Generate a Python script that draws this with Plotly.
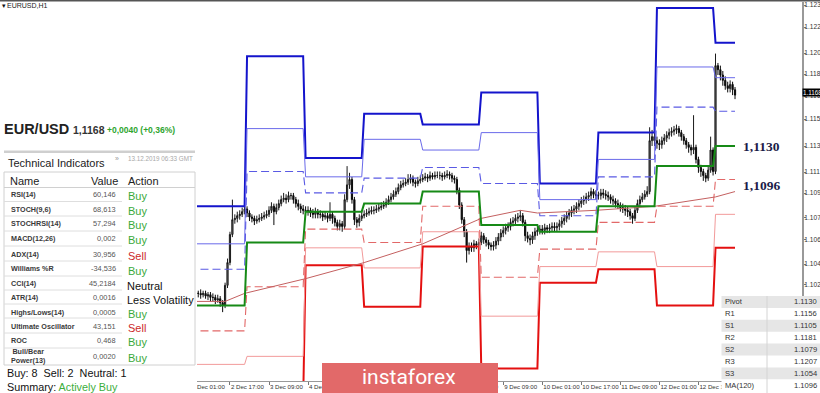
import plotly.graph_objects as go

# ---------------- DATA ----------------
# Hourly EUR/USD bars, index 0 = 2 Dec 00:00 (weekend removed)
closes = [
    1.1021, 1.1020, 1.1021, 1.1020, 1.1020, 1.1019, 1.1020, 1.1018, 1.1019, 1.1017,
    1.1017, 1.1015, 1.1016, 1.1013, 1.1011, 1.1026, 1.1043, 1.1064, 1.1075, 1.1076,
    1.1078, 1.1079, 1.1081, 1.1083, 1.1080, 1.1077, 1.1076, 1.1074, 1.1075, 1.1076,
    1.1077, 1.1078, 1.1079, 1.1082, 1.1085, 1.1081, 1.1084, 1.1087, 1.1090, 1.1091,
    1.1090, 1.1093, 1.1093, 1.1090, 1.1087, 1.1085, 1.1083, 1.1082, 1.1081, 1.1082,
    1.1080, 1.1079, 1.1081, 1.1079, 1.1079, 1.1077, 1.1078, 1.1076, 1.1079, 1.1076,
    1.1073, 1.1070, 1.1072, 1.1070, 1.1090, 1.1101, 1.1105, 1.1090, 1.1075, 1.1073,
    1.1076, 1.1078, 1.1079, 1.1080, 1.1081, 1.1082, 1.1082, 1.1083, 1.1084, 1.1085,
    1.1086, 1.1088, 1.1090, 1.1092, 1.1094, 1.1096, 1.1099, 1.1101, 1.1102, 1.1103,
    1.1105, 1.1106, 1.1103, 1.1102, 1.1104, 1.1105, 1.1106, 1.1107, 1.1106, 1.1108,
    1.1107, 1.1108, 1.1108, 1.1108, 1.1107, 1.1108, 1.1109, 1.1108, 1.1106, 1.1105,
    1.1097, 1.1086, 1.1075, 1.1066, 1.1052, 1.1055, 1.1054, 1.1057, 1.1056, 1.1058,
    1.1063, 1.1060, 1.1058, 1.1056, 1.1055, 1.1056, 1.1059, 1.1062, 1.1065, 1.1067,
    1.1069, 1.1070, 1.1073, 1.1074, 1.1076, 1.1077, 1.1078, 1.1073, 1.1063, 1.1061,
    1.1060, 1.1063, 1.1066, 1.1067, 1.1068, 1.1067, 1.1069, 1.1068, 1.1069, 1.1070,
    1.1069, 1.1070, 1.1072, 1.1074, 1.1076, 1.1078, 1.1080, 1.1082, 1.1083, 1.1085,
    1.1087, 1.1089, 1.1090, 1.1092, 1.1093, 1.1096, 1.1094, 1.1093, 1.1093, 1.1095,
    1.1094, 1.1093, 1.1092, 1.1090, 1.1089, 1.1087, 1.1086, 1.1084, 1.1083, 1.1082,
    1.1081, 1.1078, 1.1076, 1.1082, 1.1087, 1.1090, 1.1092, 1.1094, 1.1096, 1.1134,
    1.1137, 1.1134, 1.1132, 1.1131, 1.1134, 1.1136, 1.1138, 1.1140, 1.1141, 1.1142,
    1.1143, 1.1140, 1.1137, 1.1134, 1.1131, 1.1129, 1.1127, 1.1129, 1.1120, 1.1114,
    1.1111, 1.1108, 1.1106, 1.1112, 1.1127, 1.1111, 1.1190, 1.1187, 1.1183, 1.1179,
    1.1175, 1.1173, 1.1176, 1.1172, 1.1168,
]
highs = [
    1.1024, 1.1023, 1.1024, 1.1023, 1.1022, 1.1023, 1.1022, 1.1022, 1.1021, 1.1021,
    1.1020, 1.1019, 1.1019, 1.1018, 1.1015, 1.1028, 1.1046, 1.1066, 1.1090, 1.1079,
    1.1081, 1.1082, 1.1084, 1.1086, 1.1085, 1.1082, 1.1079, 1.1078, 1.1078, 1.1079,
    1.1080, 1.1081, 1.1082, 1.1085, 1.1088, 1.1087, 1.1087, 1.1090, 1.1093, 1.1095,
    1.1094, 1.1096, 1.1095, 1.1095, 1.1092, 1.1090, 1.1087, 1.1086, 1.1085, 1.1085,
    1.1084, 1.1083, 1.1084, 1.1083, 1.1082, 1.1081, 1.1081, 1.1080, 1.1088, 1.1081,
    1.1078, 1.1075, 1.1075, 1.1074, 1.1094, 1.1115, 1.1110, 1.1107, 1.1092, 1.1077,
    1.1079, 1.1081, 1.1082, 1.1083, 1.1084, 1.1085, 1.1085, 1.1086, 1.1087, 1.1088,
    1.1089, 1.1091, 1.1093, 1.1095, 1.1097, 1.1099, 1.1102, 1.1104, 1.1105, 1.1106,
    1.1109, 1.1109, 1.1108, 1.1105, 1.1107, 1.1108, 1.1109, 1.1110, 1.1109, 1.1111,
    1.1110, 1.1111, 1.1111, 1.1111, 1.1110, 1.1111, 1.1112, 1.1111, 1.1110, 1.1108,
    1.1107, 1.1099, 1.1088, 1.1077, 1.1068, 1.1058, 1.1058, 1.1060, 1.1059, 1.1061,
    1.1066, 1.1065, 1.1062, 1.1060, 1.1058, 1.1059, 1.1062, 1.1065, 1.1068, 1.1070,
    1.1072, 1.1073, 1.1076, 1.1077, 1.1079, 1.1080, 1.1082, 1.1080, 1.1075, 1.1066,
    1.1064, 1.1066, 1.1069, 1.1070, 1.1071, 1.1071, 1.1072, 1.1071, 1.1072, 1.1073,
    1.1073, 1.1073, 1.1075, 1.1077, 1.1079, 1.1081, 1.1083, 1.1085, 1.1086, 1.1088,
    1.1090, 1.1092, 1.1093, 1.1095, 1.1096, 1.1099, 1.1098, 1.1097, 1.1096, 1.1098,
    1.1098, 1.1097, 1.1096, 1.1094, 1.1093, 1.1091, 1.1090, 1.1088, 1.1087, 1.1086,
    1.1085, 1.1083, 1.1080, 1.1085, 1.1090, 1.1093, 1.1095, 1.1097, 1.1100, 1.1144,
    1.1142, 1.1140, 1.1137, 1.1135, 1.1137, 1.1139, 1.1141, 1.1143, 1.1144, 1.1145,
    1.1146, 1.1145, 1.1142, 1.1139, 1.1136, 1.1133, 1.1131, 1.1153, 1.1131, 1.1122,
    1.1116, 1.1113, 1.1110, 1.1115, 1.1137, 1.1129, 1.1199, 1.1192, 1.1190, 1.1186,
    1.1182, 1.1178, 1.1179, 1.1178, 1.1174,
]
lows = [
    1.1019, 1.1018, 1.1018, 1.1017, 1.1017, 1.1016, 1.1017, 1.1016, 1.1015, 1.1014,
    1.1014, 1.1012, 1.1013, 1.1010, 1.1006, 1.1009, 1.1024, 1.1041, 1.1062, 1.1072,
    1.1073, 1.1075, 1.1077, 1.1079, 1.1077, 1.1074, 1.1073, 1.1071, 1.1072, 1.1073,
    1.1074, 1.1075, 1.1076, 1.1077, 1.1080, 1.1071, 1.1079, 1.1082, 1.1085, 1.1088,
    1.1087, 1.1088, 1.1090, 1.1087, 1.1084, 1.1082, 1.1080, 1.1079, 1.1078, 1.1078,
    1.1077, 1.1076, 1.1076, 1.1076, 1.1076, 1.1074, 1.1075, 1.1073, 1.1074, 1.1072,
    1.1070, 1.1067, 1.1067, 1.1066, 1.1068, 1.1088, 1.1098, 1.1087, 1.1071, 1.1069,
    1.1070, 1.1074, 1.1076, 1.1077, 1.1078, 1.1079, 1.1079, 1.1080, 1.1081, 1.1082,
    1.1083, 1.1084, 1.1086, 1.1088, 1.1090, 1.1092, 1.1094, 1.1097, 1.1099, 1.1100,
    1.1101, 1.1102, 1.1100, 1.1099, 1.1100, 1.1102, 1.1103, 1.1104, 1.1103, 1.1104,
    1.1105, 1.1105, 1.1106, 1.1105, 1.1104, 1.1105, 1.1106, 1.1105, 1.1103, 1.1102,
    1.1094, 1.1083, 1.1072, 1.1062, 1.1043, 1.1049, 1.1051, 1.1051, 1.1053, 1.1053,
    1.1056, 1.1057, 1.1055, 1.1053, 1.1052, 1.1052, 1.1053, 1.1056, 1.1059, 1.1062,
    1.1064, 1.1066, 1.1067, 1.1070, 1.1071, 1.1073, 1.1074, 1.1070, 1.1059, 1.1058,
    1.1056, 1.1057, 1.1060, 1.1063, 1.1064, 1.1064, 1.1064, 1.1065, 1.1065, 1.1066,
    1.1066, 1.1066, 1.1067, 1.1069, 1.1071, 1.1073, 1.1075, 1.1077, 1.1079, 1.1080,
    1.1082, 1.1084, 1.1086, 1.1087, 1.1089, 1.1090, 1.1091, 1.1090, 1.1090, 1.1090,
    1.1091, 1.1090, 1.1089, 1.1087, 1.1086, 1.1084, 1.1083, 1.1081, 1.1080, 1.1078,
    1.1077, 1.1075, 1.1072, 1.1074, 1.1080, 1.1085, 1.1088, 1.1090, 1.1092, 1.1094,
    1.1130, 1.1130, 1.1128, 1.1127, 1.1128, 1.1131, 1.1133, 1.1135, 1.1137, 1.1138,
    1.1139, 1.1137, 1.1134, 1.1131, 1.1128, 1.1125, 1.1123, 1.1124, 1.1117, 1.1110,
    1.1107, 1.1104, 1.1103, 1.1104, 1.1110, 1.1108, 1.1109, 1.1183, 1.1179, 1.1175,
    1.1172, 1.1170, 1.1170, 1.1168, 1.1165,
]
first_open = 1.1022
opens = [first_open] + closes[:-1]
bar_idx = list(range(len(closes)))

# Daily pivot levels (one value per trading day)
day_labels = ["2 Dec", "3 Dec", "4 Dec", "5 Dec", "6 Dec", "9 Dec", "10 Dec", "11 Dec", "12 Dec", "13 Dec"]
day_start = [0, 24, 48, 72, 96, 120, 144, 168, 192, 216]
day_end = [23, 47, 71, 95, 119, 143, 167, 191, 215, 224]
lvl_R3 = [1.1085, 1.1197, 1.1121, 1.1154, 1.1146, 1.1170, 1.1102, 1.1140, 1.1233, 1.1207]
lvl_R2 = [1.1057, 1.1143, 1.1107, 1.1135, 1.1127, 1.1140, 1.1090, 1.1120, 1.1189, 1.1181]
lvl_R1 = [1.1038, 1.1111, 1.1095, 1.1106, 1.1114, 1.1102, 1.1078, 1.1107, 1.1159, 1.1156]
lvl_P = [1.1011, 1.1058, 1.1081, 1.1087, 1.1096, 1.1071, 1.1066, 1.1085, 1.1115, 1.1130]
lvl_S1 = [1.0992, 1.1025, 1.1068, 1.1058, 1.1085, 1.1032, 1.1053, 1.1073, 1.1085, 1.1105]
lvl_S2 = [1.0967, 1.0973, 1.1054, 1.1039, 1.1066, 1.1003, 1.1040, 1.1051, 1.1040, 1.1079]
lvl_S3 = [1.0946, 1.0940, 1.1041, 1.1010, 1.1055, 1.0964, 1.1028, 1.1038, 1.1011, 1.1054]

# MA(120)
ma_idx = [3, 15, 23, 48, 72, 96, 120, 136, 143, 167, 191, 216, 224]
ma_val = [1.1014, 1.1014, 1.1020, 1.1031, 1.1043, 1.1057, 1.1076, 1.1082, 1.1080, 1.1082, 1.1085, 1.1092, 1.1096]

# Axis ticks
xtick_idx = [1, 17, 33, 49, 65, 81, 97, 113, 129, 145, 161, 177, 193, 209]
xtick_text = ["2 Dec 01:00", "2 Dec 17:00", "3 Dec 09:00", "4 Dec 01:00", "4 Dec 17:00",
              "5 Dec 09:00", "6 Dec 01:00", "6 Dec 17:00", "9 Dec 09:00", "10 Dec 01:00",
              "10 Dec 17:00", "11 Dec 09:00", "12 Dec 01:00", "12 Dec 17:00"]
ytick_val = [1.12352, 1.12188, 1.11994, 1.11837, 1.11673, 1.11501, 1.11300, 1.11106,
             1.10949, 1.10763, 1.10599, 1.10419, 1.10263]
ytick_text = ["1.123", "1.122", "1.120", "1.118", "1.116", "1.115", "1.113", "1.111",
              "1.109", "1.107", "1.106", "1.104", "1.102"]

# Indicator panel
ind_names = ["RSI(14)", "STOCH(9,6)", "STOCHRSI(14)", "MACD(12,26)", "ADX(14)", "Williams %R",
             "CCI(14)", "ATR(14)", "Highs/Lows(14)", "Ultimate Oscillator", "ROC", "Bull/Bear<br>Power(13)"]
ind_values = ["60,146", "68,613", "57,294", "0,002", "30,956", "-34,536", "45,2184", "0,0016",
              "0,0005", "43,151", "0,468", "0,0020"]
ind_actions = ["Buy", "Buy", "Buy", "Buy", "Sell", "Buy", "Neutral", "Less Volatility", "Buy",
               "Sell", "Buy", "Buy"]

# Pivot table
piv_labels = ["Pivot", "R1", "S1", "R2", "S2", "R3", "S3", "MA(120)"]
piv_values = ["1.1130", "1.1156", "1.1105", "1.1181", "1.1079", "1.1207", "1.1054", "1.1096"]

# ---------------- FIGURE ----------------
SANS = "Liberation Sans, Arial, sans-serif"
fig = go.Figure()

def level_xy(vals):
    xs, ys = [], []
    for s, e, v in zip(day_start, day_end, vals):
        xs += [s, e]
        ys += [v, v]
    return xs, ys

level_styles = [
    (lvl_S3, "#e41010", 2.0, "solid"),
    (lvl_S2, "#f29a9a", 1.0, "solid"),
    (lvl_S1, "#e26868", 1.1, "8px,4px"),
    (lvl_R3, "#1414cc", 2.0, "solid"),
    (lvl_R2, "#6a6aea", 1.0, "solid"),
    (lvl_R1, "#5a5ae4", 1.1, "8px,4px"),
]
for vals, col, w, dash in level_styles:
    xs, ys = level_xy(vals)
    fig.add_trace(go.Scatter(x=xs, y=ys, mode="lines", line=dict(color=col, width=w, dash=dash),
                             hoverinfo="skip"))

fig.add_trace(go.Scatter(x=ma_idx, y=ma_val, mode="lines", line=dict(color="#c46060", width=1),
                         hoverinfo="skip"))
xs, ys = level_xy(lvl_P)
fig.add_trace(go.Scatter(x=xs, y=ys, mode="lines", line=dict(color="#168a16", width=2),
                         hoverinfo="skip"))

fig.add_trace(go.Candlestick(
    x=bar_idx, open=opens, high=highs, low=lows, close=closes,
    increasing=dict(line=dict(color="#1a1a1a", width=1), fillcolor="#707070"),
    decreasing=dict(line=dict(color="#0a0a0a", width=1), fillcolor="#0a0a0a"),
    whiskerwidth=0, hoverinfo="skip"))

# ---------- overlay helpers (pixel -> paper) ----------
W_PLOT = 802.0
def fx(px):
    return px / W_PLOT
def fy(py):
    return (381.0 - py) / 379.0

shapes = []
annotations = []

def rect(x0, y0, x1, y1, fill="rgba(0,0,0,0)", line="rgba(0,0,0,0)", lw=0):
    shapes.append(dict(type="rect", xref="paper", yref="paper", x0=fx(x0), x1=fx(x1),
                       y0=fy(y1), y1=fy(y0), fillcolor=fill, line=dict(color=line, width=lw),
                       layer="above"))

def hline(x0, x1, y, color, w=1):
    shapes.append(dict(type="line", xref="paper", yref="paper", x0=fx(x0), x1=fx(x1),
                       y0=fy(y), y1=fy(y), line=dict(color=color, width=w), layer="above"))

def vline(x, y0, y1, color, w=1):
    shapes.append(dict(type="line", xref="paper", yref="paper", x0=fx(x), x1=fx(x),
                       y0=fy(y0), y1=fy(y1), line=dict(color=color, width=w), layer="above"))

def txt(px, py, s, size, color="#222222", bold=False, anchor="left", family=SANS):
    annotations.append(dict(xref="paper", yref="paper", x=fx(px), y=fy(py),
                            text=("<b>%s</b>" % s) if bold else s, showarrow=False,
                            xanchor=anchor, yanchor="middle", borderpad=0,
                            font=dict(size=size, color=color, family=family)))

# top border
hline(0, 820, 0.5, "#555555", 2)
txt(1, 5, "▾", 7, "#111111")
txt(6, 5, "EURUSD,H1", 7, "#222222")

# left indicator panel
rect(0, 114, 197, 395, fill="#ffffff")
txt(3, 129, "EUR/USD", 14.5, "#222222", bold=True)
txt(72, 130, "1,1168", 10.5, "#333333", bold=True)
txt(106, 130, "+0,0040 (+0,36%)", 8.5, "#2ea52e", bold=True)
rect(4, 150.5, 195, 153, fill="#cfcfcf")
txt(7, 163, "Technical Indicators", 11, "#222222")
txt(114, 158, "»", 7, "#999999")
txt(127, 158, "13.12.2019 06:33 GMT", 6.3, "#a8a8a8")
rect(4, 172, 195, 365, line="#d0d0d0", lw=1)
txt(9, 181, "Name", 11, "#222222")
txt(90, 181, "Value", 11, "#222222")
txt(127, 181, "Action", 11, "#222222")
hline(4, 195, 187.5, "#d0d0d0", 1)

row_y = [194, 209, 223.5, 238, 254, 268.5, 283, 297.5, 312, 326, 340, 356]
sep_y = [201.5, 216, 231, 246, 261, 276, 290, 304, 318, 333, 348]
for yy in sep_y:
    hline(4, 122, yy, "#dedede", 1)
for name, val, act, yy in zip(ind_names, ind_values, ind_actions, row_y):
    txt(10, yy, name, 7.2, "#3a3a3a", bold=True)
    txt(117, yy, val, 7.4, "#555555", anchor="right")
    if act == "Buy":
        txt(127, yy + 2, act, 11, "#39a939")
    elif act == "Sell":
        txt(127, yy + 2, act, 11, "#cc2a2a")
    else:
        txt(126, yy + 2.5, act, 11, "#111111")
txt(6, 373, "Buy: 8  Sell: 2  Neutral: 1", 10.8, "#111111")
txt(6, 387, "Summary: <span style='color:#3cae3c'>Actively Buy</span>", 10.8, "#111111")

# right pivot table
row_h = 11.9
rect(721.5, 296, 822, 395, fill="#ffffff")
for k, (lab, val) in enumerate(zip(piv_labels, piv_values)):
    y0 = 296 + k * row_h
    y1 = y0 + row_h if k < len(piv_labels) - 1 else 395
    if k % 2 == 0:
        rect(721.5, y0, 822, y1, fill="#e6e6e6")
    txt(724, y0 + row_h / 2, lab, 7.6, "#333333")
    txt(818, y0 + row_h / 2, val, 7.6, "#333333", anchor="right")
vline(767, 296, 395, "#d4d4d4", 1)

# instaforex logo
rect(322, 363, 498, 396, fill="#e26969")
annotations.append(dict(xref="paper", yref="paper", x=fx(409), y=fy(377), text="instaforex",
                        showarrow=False, xanchor="center", yanchor="middle",
                        font=dict(size=21, color="#ffffff", family="Roboto, sans-serif")))

# value labels on the chart
annotations.append(dict(x=226.5, y=lvl_P[-1], xref="x", yref="y", text="<b>1,1130</b>",
                        showarrow=False, xanchor="left", yanchor="middle",
                        font=dict(size=13.5, color="#1c1c48", family="Liberation Serif, serif")))
annotations.append(dict(x=226.5, y=ma_val[-1], xref="x", yref="y", yshift=6, text="<b>1,1096</b>",
                        showarrow=False, xanchor="left", yanchor="middle",
                        font=dict(size=13.5, color="#1c1c48", family="Liberation Serif, serif")))
# current price box on the axis (sits just above the nearest tick label)
annotations.append(dict(x=1.0, y=closes[-1], xref="paper", yref="y", yshift=3, text="1.1168",
                        showarrow=False, xanchor="left", yanchor="middle", bgcolor="#000000",
                        borderpad=0, font=dict(size=6.3, color="#ffffff", family=SANS)))

fig.update_layout(
    width=820, height=393, autosize=False,
    margin=dict(l=0, r=18, t=2, b=12, autoexpand=False),
    paper_bgcolor="#ffffff", plot_bgcolor="#ffffff",
    showlegend=False,
    shapes=shapes, annotations=annotations,
    xaxis=dict(range=[-77.25, 251.45], rangeslider=dict(visible=False), showgrid=False,
               zeroline=False, tickmode="array", tickvals=xtick_idx, ticktext=xtick_text,
               ticks="outside", ticklen=3, tickcolor="#777777", showline=True,
               linecolor="#999999", linewidth=1, ticklabelposition="outside right",
               tickangle=0, automargin=False,
               tickfont=dict(size=6.1, color="#333333", family=SANS)),
    yaxis=dict(range=[1.09546, 1.12375], side="right", showgrid=False, zeroline=False,
               tickmode="array", tickvals=ytick_val, ticktext=ytick_text,
               ticks="outside", ticklen=2, tickcolor="#777777", showline=True,
               linecolor="#999999", linewidth=2, automargin=False, ticklabelstandoff=-3,
               tickfont=dict(size=6.6, color="#333333", family=SANS)),
)

fig.write_html("out.html")
